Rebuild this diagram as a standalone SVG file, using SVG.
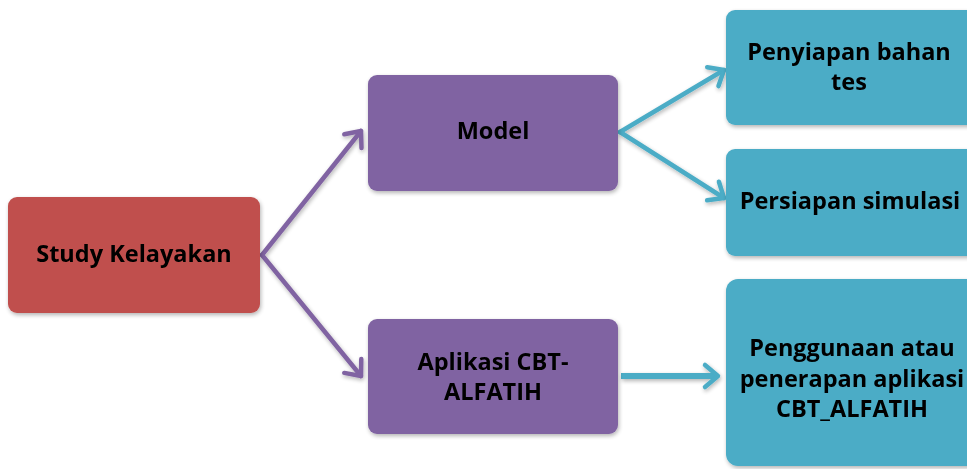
<svg xmlns="http://www.w3.org/2000/svg" width="967" height="469" viewBox="0 0 967 469">
<defs>
<filter id="sh" x="-10%" y="-10%" width="130%" height="130%">
<feGaussianBlur in="SourceAlpha" stdDeviation="2"/>
<feOffset dx="1" dy="2" result="b"/>
<feComponentTransfer><feFuncA type="linear" slope="0.3"/></feComponentTransfer>
<feMerge><feMergeNode/><feMergeNode in="SourceGraphic"/></feMerge>
</filter>
<marker id="ap" markerUnits="userSpaceOnUse" markerWidth="30" markerHeight="30" refX="18" refY="15" orient="auto" viewBox="0 0 30 30">
<path d="M5,4 L18,15 L5,26" fill="none" stroke="#8064A2" stroke-width="4.5" stroke-linecap="round" stroke-linejoin="round"/>
</marker>
<marker id="ac" markerUnits="userSpaceOnUse" markerWidth="30" markerHeight="30" refX="18" refY="15" orient="auto" viewBox="0 0 30 30">
<path d="M5,4 L18,15 L5,26" fill="none" stroke="#4BACC6" stroke-width="4.5" stroke-linecap="round" stroke-linejoin="round"/>
</marker>
</defs>
<style>
.t{font-family:"Open Sans","DejaVu Sans",sans-serif;font-weight:bold;font-size:23.5px;fill:#000;text-anchor:middle}
.red{fill:#C0504D}
.pur{fill:#8064A2}
.cy{fill:#4BACC6}
.cp{fill:none;stroke:#8064A2;stroke-width:4.5;stroke-linecap:round}
.cc{fill:none;stroke:#4BACC6;stroke-width:4.5;stroke-linecap:round}
</style>
<rect width="967" height="469" fill="#fff"/>
<g id="connectors" filter="url(#sh)">
<path class="cp" d="M262,255 L361,131" marker-end="url(#ap)"/>
<path class="cp" d="M262,255 L361,376" marker-end="url(#ap)"/>
<path class="cc" d="M620,132 L724,70" marker-end="url(#ac)"/>
<path class="cc" d="M620,132 L724,198" marker-end="url(#ac)"/>
<path class="cc" d="M621,376 L718,376" style="stroke-width:6;stroke-linecap:butt" marker-end="url(#ac)"/>
</g>
<g id="study" filter="url(#sh)">
<rect class="red" x="8" y="197" width="252" height="116" rx="9"/>
<text class="t" x="134" y="262">Study Kelayakan</text>
</g>
<g id="model" filter="url(#sh)">
<rect class="pur" x="368" y="75" width="250" height="116" rx="9"/>
<text class="t" x="493" y="139">Model</text>
</g>
<g id="aplikasi" filter="url(#sh)">
<rect class="pur" x="368" y="319" width="250" height="115" rx="9"/>
<text class="t" x="493" y="370">Aplikasi CBT-</text>
<text class="t" x="493" y="400">ALFATIH</text>
</g>
<g id="penyiapan" filter="url(#sh)">
<rect class="cy" x="726" y="10" width="260" height="115" rx="9"/>
<text class="t" x="849" y="60">Penyiapan bahan</text>
<text class="t" x="849" y="90">tes</text>
</g>
<g id="persiapan" filter="url(#sh)">
<rect class="cy" x="726" y="149" width="260" height="107" rx="9"/>
<text class="t" x="850" y="209">Persiapan simulasi</text>
</g>
<g id="penggunaan" filter="url(#sh)">
<rect class="cy" x="726" y="279" width="260" height="187" rx="12"/>
<text class="t" x="852" y="356">Penggunaan atau</text>
<text class="t" x="852" y="387">penerapan aplikasi</text>
<text class="t" x="852" y="417">CBT_ALFATIH</text>
</g>
</svg>
